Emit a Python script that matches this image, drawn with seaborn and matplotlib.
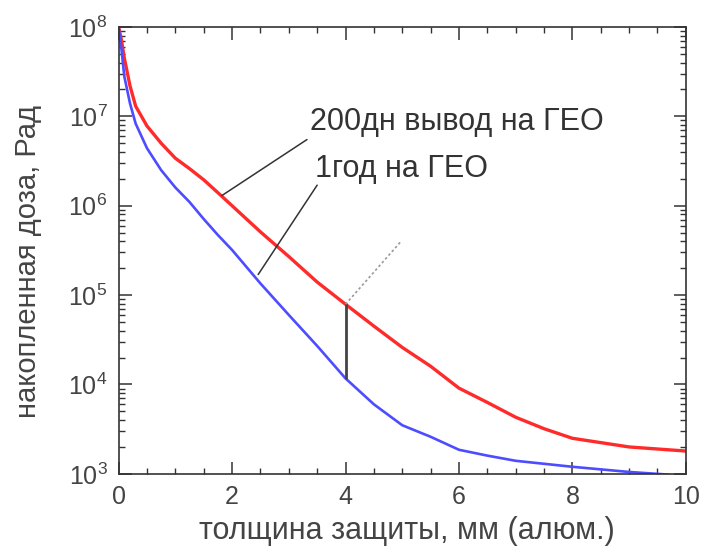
import numpy as np
import pandas as pd
import matplotlib
matplotlib.use("Agg")
import matplotlib.pyplot as plt
import matplotlib.ticker as mticker
import seaborn as sns

# ---- data ----
x_red = [0, 0.05, 0.1, 0.2, 0.3, 0.5, 0.75, 1, 1.25, 1.5, 1.75, 2, 2.5, 3, 3.5, 4, 4.5, 5, 5.5, 6,
         6.5, 7, 7.5, 8, 9, 10]
dose_red = [1.0e8, 7.1e7, 4.5e7, 2.2e7, 1.3e7, 7.8e6, 5.0e6, 3.4e6, 2.6e6, 1.95e6, 1.4e6, 1.0e6,
            5.1e5, 2.7e5, 1.4e5, 7.9e4, 4.5e4, 2.6e4, 1.6e4, 9.1e3, 6.3e3, 4.3e3, 3.2e3, 2.5e3,
            2.0e3, 1.8e3]
x_blue = [0, 0.05, 0.1, 0.2, 0.3, 0.5, 0.75, 1, 1.25, 1.5, 1.75, 2, 2.5, 3, 3.5, 4, 4.5, 5, 5.5, 6,
          6.5, 7, 8, 9, 9.7]
dose_blue = [1.0e8, 5.6e7, 2.8e7, 1.4e7, 8.3e6, 4.4e6, 2.5e6, 1.6e6, 1.1e6, 7.1e5, 4.7e5, 3.2e5,
             1.35e5, 6.0e4, 2.7e4, 1.17e4, 6.0e3, 3.5e3, 2.6e3, 1.86e3, 1.6e3, 1.4e3, 1.2e3,
             1.05e3, 9.8e2]
series_names = ["200дн вывод на ГЕО", "1год на ГЕО"]
x_ticks = [0, 2, 4, 6, 8, 10]
y_ticks = [1e3, 1e4, 1e5, 1e6, 1e7, 1e8]
x_label = "толщина защиты, мм (алюм.)"
y_label = "накопленная доза, Рад"

df = pd.DataFrame({
    "x": x_red + x_blue,
    "dose": dose_red + dose_blue,
    "series": [series_names[0]] * len(x_red) + [series_names[1]] * len(x_blue),
})

sns.set_theme(style="white")
plt.rcParams["font.family"] = ["Liberation Sans", "DejaVu Sans"]
plt.rcParams["mathtext.fontset"] = "custom"
plt.rcParams["mathtext.rm"] = "Liberation Sans"
plt.rcParams["mathtext.it"] = "Liberation Sans"

fig = plt.figure(figsize=(7.02, 5.51), dpi=100)
ax = fig.add_axes([0.169, 0.14, 0.808, 0.811])

palette = {series_names[0]: "#ff2b2b", series_names[1]: "#4d4dff"}
sns.lineplot(data=df, x="x", y="dose", hue="series", palette=palette, ax=ax,
             legend=False, sort=False, estimator=None)
lines = ax.get_lines()
lines[0].set_linewidth(2.4)
lines[1].set_linewidth(1.9)

ax.set_yscale("log")
ax.set_xlim(0, 10)
ax.set_ylim(1e3, 1e8)

# vertical bar at 4 mm between curves
i_r = x_red.index(4)
i_b = x_blue.index(4)
ax.plot([4, 4], [dose_blue[i_b], dose_red[i_r]], color="#444444", lw=2.0, zorder=3)
# dotted line from red curve
ax.plot([4, 4.98], [dose_red[i_r], 4.0e5], color="#999999", lw=1.2, ls=(0, (1.5, 1.5)), zorder=3)

# annotation leader lines
ax.plot([1.82, 3.32], [1.3e6, 5.5e6], color="#333333", lw=1.1, zorder=4)
ax.plot([2.46, 3.50], [1.7e5, 1.7e6], color="#333333", lw=1.1, zorder=4)
ax.text(3.37, 8.7e6, series_names[0], fontsize=22, color="#333333", va="center", ha="left")
ax.text(3.46, 2.6e6, series_names[1], fontsize=22, color="#333333", va="center", ha="left")

ax.set_xticks(x_ticks)
ax.set_xticklabels([str(t) for t in x_ticks])
ax.xaxis.set_minor_locator(mticker.MultipleLocator(0.5))
ax.set_yticks(y_ticks)
ax.set_yticklabels([r"$10^{%d}$" % int(np.log10(t)) for t in y_ticks])
ax.yaxis.set_minor_locator(mticker.LogLocator(base=10, subs=np.arange(2, 10), numticks=20))
ax.yaxis.set_minor_formatter(mticker.NullFormatter())

ax.tick_params(which="both", direction="in", top=True, right=True, bottom=True, left=True,
               color="#333333", labelcolor="#444444", labelsize=18)
ax.tick_params(which="major", length=9, width=1.1, pad=8)
ax.tick_params(which="minor", length=4.5, width=1.0)
for s in ax.spines.values():
    s.set_color("#333333")
    s.set_linewidth(1.2)

ax.set_xlabel(x_label, fontsize=22, color="#444444")
ax.xaxis.set_label_coords(0.508, -0.095)
ax.set_ylabel(y_label, fontsize=21, color="#444444")
ax.yaxis.set_label_coords(-0.135, 0.475)

fig.savefig("out.png", dpi=100, facecolor="white")
